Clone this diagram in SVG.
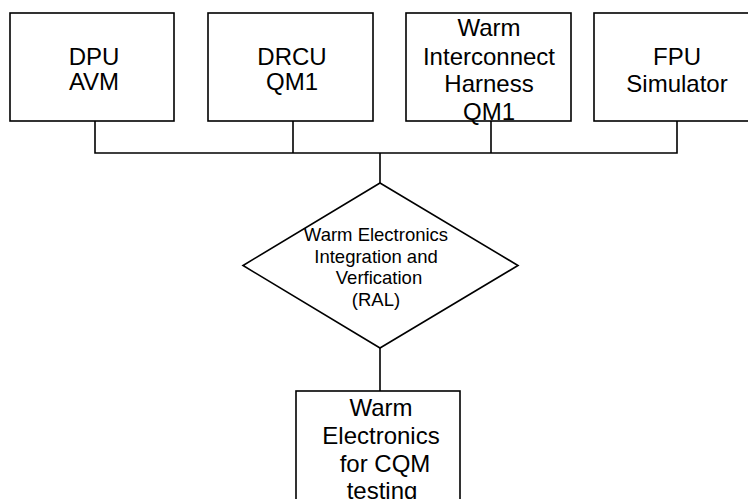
<svg xmlns="http://www.w3.org/2000/svg" width="748" height="499" viewBox="0 0 748 499">
<style>
.box{fill:#fff;stroke:#000;stroke-width:1.6}
.ln{fill:none;stroke:#000;stroke-width:1.6}
.t{font-family:"Liberation Sans",Arial,sans-serif;font-size:24px;fill:#000;text-anchor:middle}
.s{font-family:"Liberation Sans",Arial,sans-serif;font-size:18.5px;fill:#000;text-anchor:middle}
</style>
<rect width="748" height="499" fill="#fff"/>
<g id="connectors">
<path class="ln" d="M95 121V153H677V121M293 121V153M491 121V153M380 153V183M380 348V391"/>
</g>
<g id="dpu">
<rect class="box" x="10" y="13" width="164" height="108"/>
<text class="t" x="94" y="65">DPU</text>
<text class="t" x="94" y="90">AVM</text>
</g>
<g id="drcu">
<rect class="box" x="208" y="13" width="165" height="108"/>
<text class="t" x="292" y="65">DRCU</text>
<text class="t" x="292" y="90">QM1</text>
</g>
<g id="harness">
<rect class="box" x="406" y="13" width="165" height="108"/>
<text class="t" x="489" y="36">Warm</text>
<text class="t" x="489" y="64.5">Interconnect</text>
<text class="t" x="489" y="91.5">Harness</text>
<text class="t" x="489" y="120">QM1</text>
</g>
<g id="fpu">
<rect class="box" x="594" y="13" width="164" height="108"/>
<text class="t" x="677" y="65">FPU</text>
<text class="t" x="677" y="91.5">Simulator</text>
</g>
<g id="integration">
<polygon class="box" points="380,183 518,265.5 380,348 243,265.5"/>
<text class="s" x="376" y="241">Warm Electronics</text>
<text class="s" x="376" y="262.5">Integration and</text>
<text class="s" x="379" y="284">Verfication</text>
<text class="s" x="376" y="305.5">(RAL)</text>
</g>
<g id="cqm">
<rect class="box" x="296" y="391" width="164" height="120"/>
<text class="t" x="381" y="416">Warm</text>
<text class="t" x="381" y="444">Electronics</text>
<text class="t" x="385" y="471.5">for CQM</text>
<text class="t" x="382" y="499">testing</text>
</g>
</svg>
